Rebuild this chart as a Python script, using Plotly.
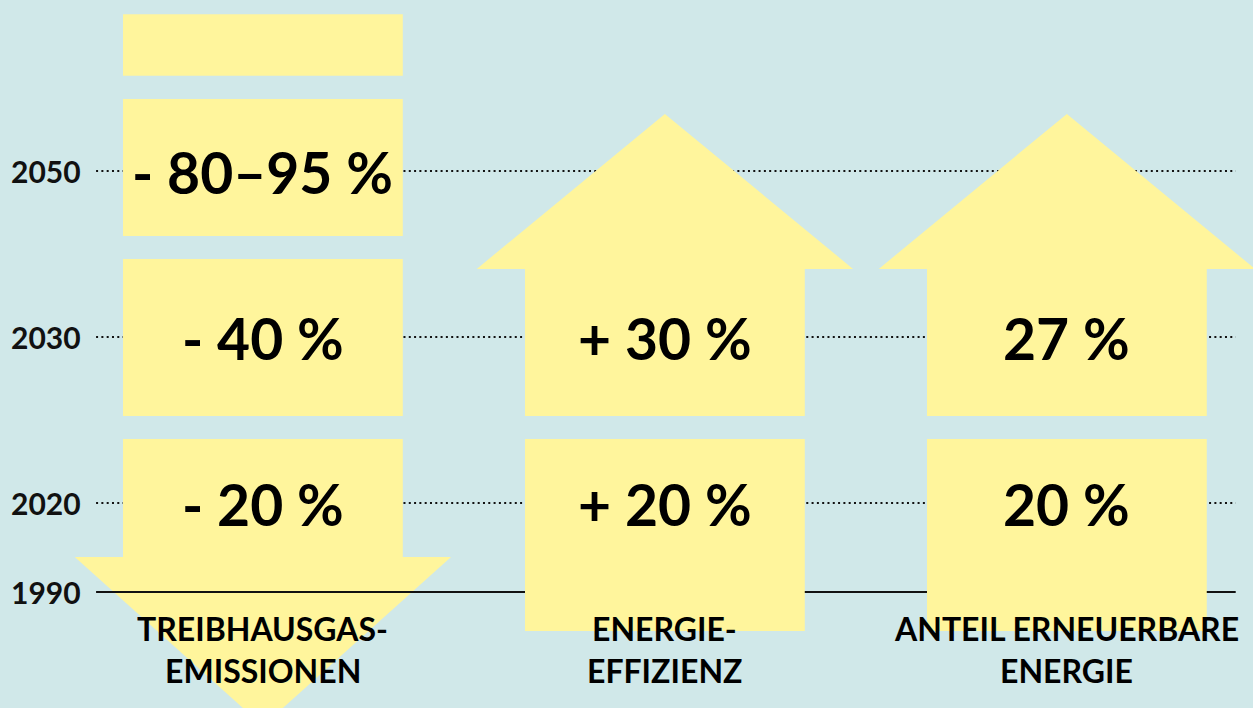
import plotly.graph_objects as go

# ---------------- data ----------------
years = ['1990', '2020', '2030', '2050']
year_levels = [0.0, 0.536, 1.536, 2.536]          # vertical position of each year row

cat_line1 = ['TREIBHAUSGAS-', 'ENERGIE-', 'ANTEIL ERNEUERBARE']
cat_line2 = ['EMISSIONEN', 'EFFIZIENZ', 'ENERGIE']

targets_2020 = ['- 20 %', '+ 20 %', '20 %']
targets_2030 = ['- 40 %', '+ 30 %', '27 %']
targets_2050 = ['- 80\u201395 %', '', '']

# ---------------- style ----------------
BG = '#d0e8e9'
YEL = '#fff59c'
FONT = 'Lato'

HALF = 0.348       # half width of a block (column units)
HEAD = 0.468       # half width of an arrow head

# block bands (bottom, top) in row units
band_top_extra = (3.11, 3.48)
band_2050 = (2.145, 2.97)
band_2030 = (1.06, 2.006)
band_2020_down = (0.211, 0.922)
down_tip = -0.807
band_2020_up = (-0.235, 0.922)
band_2030_up = (1.06, 1.946)
up_tip = 2.88

X_MIN, X_MAX = -0.654, 2.463
Y_MIN, Y_MAX = -0.699, 3.566
LINE_X0, LINE_X1 = -0.415, 2.420

fig = go.Figure()


def rect(cx, b):
    lo, hi = b
    return [cx - HALF, cx + HALF, cx + HALF, cx - HALF, cx - HALF], [lo, lo, hi, hi, lo]


def add_poly(xs, ys):
    fig.add_trace(go.Scatter(x=xs, y=ys, mode='lines', fill='toself', fillcolor=YEL,
                             line=dict(width=0, color=YEL), hoverinfo='skip', showlegend=False))


# dotted guide lines at 2020/2030/2050
dx, dy = [], []
for lv in year_levels[1:]:
    dx += [LINE_X0, LINE_X1, None]
    dy += [lv, lv, None]
fig.add_trace(go.Scatter(x=dx, y=dy, mode='lines', line=dict(color='#111111', width=2, dash='2px,3.3px'),
                         hoverinfo='skip', showlegend=False))

# column 1: downward arrow made of blocks
c = 0
for b in (band_top_extra, band_2050, band_2030):
    add_poly(*rect(c, b))
lo, hi = band_2020_down
add_poly([c - HALF, c - HALF, c - HEAD, c, c + HEAD, c + HALF, c + HALF, c - HALF],
         [hi, lo, lo, down_tip, lo, lo, hi, hi])

# 1990 baseline
fig.add_trace(go.Scatter(x=[LINE_X0, LINE_X1], y=[year_levels[0]] * 2, mode='lines',
                         line=dict(color='#111111', width=2), hoverinfo='skip', showlegend=False))

# columns 2 and 3: upward arrows
for c in (1, 2):
    add_poly(*rect(c, band_2020_up))
    lo, hi = band_2030_up
    add_poly([c - HALF, c - HALF, c - HEAD, c, c + HEAD, c + HALF, c + HALF, c - HALF],
             [lo, hi, hi, up_tip, hi, hi, lo, lo])

annotations = []
# year labels
for yr, lv in zip(years, year_levels):
    annotations.append(dict(x=0.007, xref='paper', y=lv, yref='y', text=yr, showarrow=False,
                            xanchor='left', yanchor='middle',
                            font=dict(family=FONT, size=30, color='#111111', weight=700)))
# targets
for lv, row in ((year_levels[1], targets_2020), (year_levels[2], targets_2030), (year_levels[3], targets_2050)):
    for i, t in enumerate(row):
        if t:
            annotations.append(dict(x=i, y=lv, text=t, showarrow=False, xanchor='center', yanchor='middle',
                                    yshift=-1,
                                    font=dict(family=FONT, size=57, color='#000000', weight=700)))
# category labels
for i, (l1, l2) in enumerate(zip(cat_line1, cat_line2)):
    annotations.append(dict(x=i, y=year_levels[0], text=l1, showarrow=False, xanchor='center',
                            yanchor='middle', yshift=-37,
                            font=dict(family=FONT, size=32, color='#000000', weight=700)))
    annotations.append(dict(x=i, y=year_levels[0], text=l2, showarrow=False, xanchor='center',
                            yanchor='middle', yshift=-79,
                            font=dict(family=FONT, size=32, color='#000000', weight=700)))

fig.update_layout(
    width=1253, height=708,
    margin=dict(l=0, r=0, t=0, b=0),
    paper_bgcolor=BG, plot_bgcolor=BG,
    xaxis=dict(range=[X_MIN, X_MAX], visible=False, fixedrange=True),
    yaxis=dict(range=[Y_MIN, Y_MAX], visible=False, fixedrange=True),
    annotations=annotations,
    showlegend=False,
)

fig.write_html("out.html", config={'displayModeBar': False},
               post_script="document.body.style.margin='0';document.body.style.overflow='hidden';")
